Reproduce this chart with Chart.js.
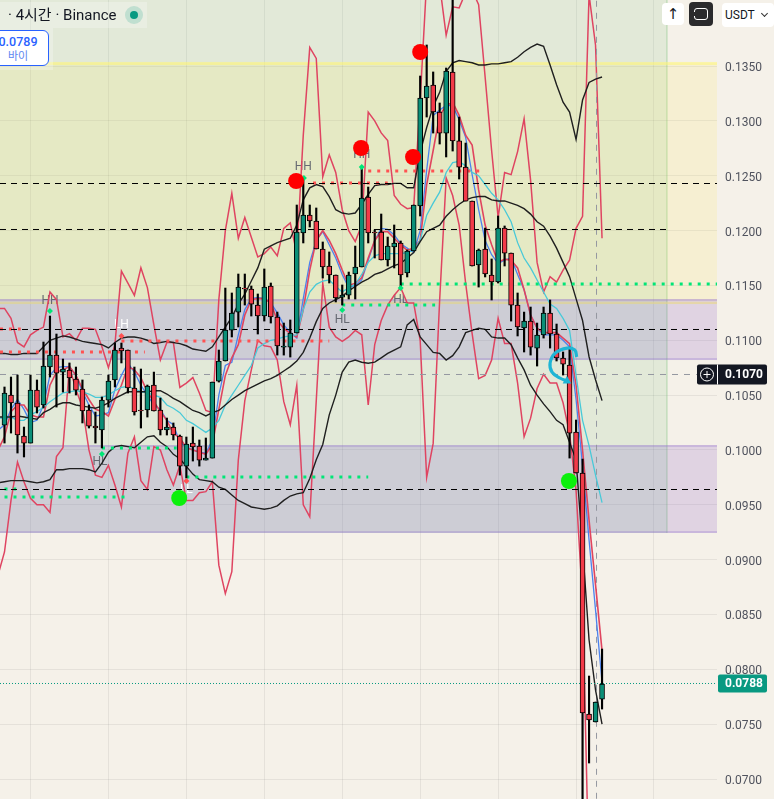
<!DOCTYPE html>
<html>
<head>
<meta charset="utf-8">
<script src="https://cdn.jsdelivr.net/npm/chart.js@4"></script>
<style>
  html,body{margin:0;padding:0;background:#f5f1e9;overflow:hidden;}
  #wrap{position:relative;width:774px;height:799px;font-family:Roboto,"Noto Sans CJK KR",sans-serif;overflow:hidden;}
  canvas{position:absolute;left:0;top:0;}
  .box{position:absolute;box-sizing:border-box;}
  #title{left:0;top:2px;width:147px;height:26px;background:rgba(255,255,255,.25);font-size:15px;line-height:26px;color:#131722;padding-left:8px;white-space:nowrap;}
  #dotHalo{left:125px;top:6px;width:18px;height:18px;border-radius:50%;background:rgba(8,153,129,.18);}
  #dot{left:130px;top:11px;width:8px;height:8px;border-radius:50%;background:#089981;}
  #buyBack{left:0;top:28px;width:53px;height:42px;background:rgba(255,255,255,.25);}
  #buy{left:-13px;top:30px;width:62px;height:36px;background:#fff;border:1px solid #2962ff;border-radius:6px;color:#2962ff;text-align:center;font-size:12px;line-height:15px;padding-top:3px;}
  #buy b{display:block;font-weight:500;font-size:12.5px;}
  #buy span{color:#5d85f0;font-size:11px;}
  #up{left:662px;top:3px;width:22px;height:22px;background:#fff;border-radius:4px;text-align:center;font:15px/22px "DejaVu Sans";color:#131722;}
  #full{left:689px;top:2px;width:24px;height:24px;background:#2a2a2c;border-radius:4px;}
  #full i{position:absolute;left:5px;top:6px;width:14px;height:12px;box-sizing:border-box;border:1.5px solid #fff;border-radius:3px;}
  #full i::before{content:"";position:absolute;left:-2px;top:2.5px;width:14px;height:4px;background:#2a2a2c;}
  #usdt{left:722px;top:3px;width:52px;height:24px;background:#fff;border-radius:4px;font-size:12px;line-height:24px;padding-left:3px;color:#131722;}
  #usdt i{position:absolute;left:40px;top:8px;width:4px;height:4px;border-right:1.3px solid #333;border-bottom:1.3px solid #333;transform:rotate(45deg);}
</style>
</head>
<body>
<div id="wrap">
  <canvas id="chart" width="774" height="799"></canvas>
  <div class="box" id="title">· 4시간 · Binance</div>
  <div class="box" id="dotHalo"></div>
  <div class="box" id="dot"></div>
  <div class="box" id="buyBack"></div>
  <div class="box" id="buy"><b>0.0789</b><span>바이</span></div>
  <div class="box" id="up">↑</div>
  <div class="box" id="full"><i></i></div>
  <div class="box" id="usdt">USDT<i></i></div>
</div>
<script>
// candles
const opens = [
  0.10227,0.10501,0.10428,0.10127,0.10063,0.10546,0.10410,0.10756,0.10865,0.10710,
  0.10729,0.10647,0.10555,0.10364,0.10218,0.10182,0.10455,0.10638,0.10929,0.10911,
  0.10565,0.10364,0.10364,0.10592,0.10364,0.10182,0.10209,0.10127,0.09853,0.10063,
  0.10036,0.09908,0.09926,0.10628,0.10811,0.11093,0.11257,0.11476,0.11467,0.11321,
  0.11221,0.11495,0.11212,0.10938,0.10938,0.11066,0.11978,0.12142,0.12087,0.11832,
  0.11677,0.11595,0.11394,0.11412,0.11604,0.11668,0.12306,0.11987,0.11987,0.11732,
  0.11850,0.11887,0.11613,0.11814,0.12224,0.13209,0.13327,0.13081,0.12889,0.13446,
  0.12817,0.12579,0.12269,0.11686,0.11832,0.11595,0.11531,0.12023,0.11795,0.11321,
  0.11112,0.11175,0.10929,0.11048,0.11248,0.11057,0.10838,0.10774,0.10163,0.09790,
  0.07592,0.07520,0.07729];
const closes = [
  0.10519,0.10428,0.10136,0.10063,0.10546,0.10391,0.10765,0.10865,0.10701,0.10738,
  0.10656,0.10546,0.10355,0.10218,0.10200,0.10455,0.10628,0.10911,0.10902,0.10565,
  0.10346,0.10355,0.10583,0.10355,0.10182,0.10209,0.10136,0.09853,0.10054,0.10027,
  0.09908,0.09926,0.10619,0.10811,0.11093,0.11248,0.11485,0.11467,0.11330,0.11221,
  0.11485,0.11212,0.10948,0.10948,0.11066,0.11987,0.12142,0.12087,0.11832,0.11668,
  0.11595,0.11385,0.11412,0.11595,0.11668,0.12297,0.11978,0.11978,0.11732,0.11859,
  0.11887,0.11595,0.11814,0.12233,0.13209,0.13318,0.13081,0.12889,0.13455,0.12817,
  0.12579,0.12269,0.11677,0.11823,0.11604,0.11531,0.12023,0.11795,0.11321,0.11121,
  0.11175,0.10938,0.11048,0.11248,0.11057,0.10838,0.10783,0.10154,0.09790,0.07602,
  0.07538,0.07702,0.07866];
const highs = [
  0.10574,0.10665,0.10683,0.10209,0.10683,0.10638,0.10984,0.11221,0.11057,0.10829,
  0.10793,0.10756,0.10638,0.10410,0.10346,0.10483,0.10683,0.10975,0.10975,0.10911,
  0.10756,0.10738,0.10592,0.10710,0.10473,0.10291,0.10246,0.10136,0.10118,0.10209,
  0.10091,0.10109,0.10619,0.10911,0.11476,0.11431,0.11604,0.11604,0.11495,0.11422,
  0.11650,0.11522,0.11257,0.11157,0.11185,0.12233,0.12479,0.12233,0.12206,0.11896,
  0.11805,0.11595,0.11504,0.11622,0.11859,0.12579,0.12397,0.12005,0.12151,0.11941,
  0.12051,0.11905,0.11823,0.12233,0.13409,0.13692,0.13446,0.13163,0.13482,0.14148,
  0.13035,0.12798,0.12269,0.11832,0.12023,0.11741,0.12133,0.12042,0.11795,0.11431,
  0.11257,0.11303,0.11157,0.11303,0.11367,0.11148,0.10893,0.10938,0.10273,0.09917,
  0.07939,0.07702,0.08185];
const lows = [
  0.10063,0.10154,0.09972,0.09936,0.10063,0.10337,0.10382,0.10665,0.10391,0.10528,
  0.10519,0.10501,0.10246,0.10200,0.10063,0.10018,0.10391,0.10574,0.10793,0.10519,
  0.10318,0.10200,0.10300,0.10355,0.10136,0.10136,0.10091,0.09771,0.09744,0.09899,
  0.09853,0.09908,0.09926,0.10619,0.10811,0.11030,0.11121,0.11321,0.11221,0.11057,
  0.11175,0.11157,0.10865,0.10865,0.10847,0.11066,0.11887,0.12032,0.11832,0.11567,
  0.11522,0.11349,0.11321,0.11376,0.11376,0.11668,0.11887,0.11750,0.11732,0.11677,
  0.11659,0.11467,0.11577,0.11814,0.12133,0.13035,0.12889,0.12789,0.12671,0.12725,
  0.12470,0.12269,0.11677,0.11485,0.11577,0.11367,0.11522,0.11677,0.11175,0.11039,
  0.10893,0.10865,0.10765,0.11020,0.10929,0.10811,0.10683,0.09926,0.09790,0.06717,
  0.07146,0.07520,0.07638];

// indicator lines, first value is the bar just left of the window
const redUpper = [0.1129,
  0.1129,0.1120,0.1098,0.1094,0.1105,0.1109,0.1112,0.1144,0.1137,0.1103,
  0.1106,0.1100,0.1111,0.1111,0.1110,0.1094,0.1075,0.1096,0.1163,0.1152,
  0.1141,0.1166,0.1148,0.1114,0.1082,0.1098,0.1098,0.1057,0.1061,0.1066,
  0.1052,0.1036,0.1034,0.1137,0.1200,0.1234,0.1193,0.1212,0.1194,0.1176,
  0.1179,0.1185,0.1177,0.1202,0.1207,0.1179,0.1287,0.1367,0.1357,0.1249,
  0.1269,0.1253,0.1219,0.1200,0.1190,0.1205,0.1308,0.1300,0.1289,0.1282,
  0.1232,0.1224,0.1220,0.1221,0.1319,0.1428,0.1433,0.1424,0.1378,0.1404,
  0.1403,0.1417,0.1419,0.1406,0.1340,0.1273,0.1212,0.1253,0.1251,0.1272,
  0.1302,0.1246,0.1171,0.1144,0.1158,0.1153,0.1164,0.1173,0.1202,0.1213,0.1415,0.1369,0.1193];
const redLower = [0.0886,
  0.0907,0.0954,0.0989,0.0971,0.0956,0.0950,0.0950,0.0943,0.0994,0.1002,
  0.1076,0.1055,0.1039,0.1000,0.0977,0.0975,0.0986,0.0968,0.0948,0.0997,
  0.1012,0.0972,0.0964,0.1003,0.1000,0.0982,0.0968,0.0986,0.0954,0.0954,
  0.0961,0.0962,0.0971,0.0895,0.0869,0.0889,0.0991,0.1045,0.1073,0.1100,
  0.1095,0.1094,0.1082,0.1044,0.1023,0.1059,0.0950,0.0939,0.1045,0.1152,
  0.1112,0.1103,0.1099,0.1103,0.1109,0.1105,0.1041,0.1096,0.1118,0.1132,
  0.1141,0.1148,0.1134,0.1134,0.1100,0.0975,0.1006,0.1137,0.1248,0.1232,
  0.1205,0.1152,0.1106,0.1065,0.1068,0.1082,0.1120,0.1097,0.1097,0.1061,
  0.1012,0.1029,0.1056,0.1069,0.1061,0.1061,0.1043,0.1015,0.0963,0.0863,0.0608,0.0590,0.0590];
const bandUpper = [0.1088,
  0.1088,0.1087,0.1087,0.1088,0.1088,0.1088,0.1094,0.1100,0.1102,0.1104,
  0.1103,0.1101,0.1099,0.1098,0.1097,0.1096,0.1093,0.1098,0.1102,0.1103,
  0.1103,0.1102,0.1100,0.1097,0.1098,0.1099,0.1098,0.1097,0.1095,0.1092,
  0.1091,0.1090,0.1094,0.1103,0.1112,0.1121,0.1133,0.1142,0.1154,0.1166,
  0.1183,0.1186,0.1189,0.1191,0.1193,0.1205,0.1228,0.1239,0.1242,0.1240,
  0.1231,0.1219,0.1216,0.1215,0.1216,0.1224,0.1233,0.1241,0.1242,0.1242,
  0.1243,0.1243,0.1239,0.1239,0.1271,0.1294,0.1313,0.1326,0.1345,0.1353,
  0.1355,0.1354,0.1353,0.1351,0.1351,0.1352,0.1352,0.1353,0.1354,0.1358,
  0.1363,0.1367,0.1370,0.1368,0.1351,0.1333,0.1317,0.1308,0.1283,0.1319,0.1335,0.1338,0.1340];
const bandMiddle = [0.1030,
  0.1030,0.1030,0.1031,0.1030,0.1029,0.1028,0.1034,0.1037,0.1041,0.1043,
  0.1043,0.1041,0.1040,0.1039,0.1038,0.1040,0.1043,0.1047,0.1050,0.1053,
  0.1053,0.1053,0.1053,0.1054,0.1054,0.1051,0.1047,0.1044,0.1040,0.1036,
  0.1034,0.1031,0.1034,0.1036,0.1041,0.1046,0.1050,0.1054,0.1057,0.1060,
  0.1063,0.1065,0.1068,0.1072,0.1076,0.1081,0.1089,0.1102,0.1117,0.1129,
  0.1134,0.1137,0.1140,0.1145,0.1149,0.1153,0.1156,0.1160,0.1162,0.1165,
  0.1168,0.1170,0.1175,0.1180,0.1190,0.1199,0.1202,0.1205,0.1213,0.1219,
  0.1224,0.1228,0.1230,0.1231,0.1231,0.1228,0.1227,0.1227,0.1225,0.1223,
  0.1220,0.1215,0.1208,0.1204,0.1195,0.1184,0.1171,0.1158,0.1138,0.1118,0.1085,0.1064,0.1045];
const bandLower = [0.0970,
  0.0971,0.0972,0.0972,0.0972,0.0971,0.0970,0.0971,0.0973,0.0982,0.0982,
  0.0983,0.0983,0.0983,0.0982,0.0980,0.0988,0.0998,0.1003,0.1004,0.1003,
  0.1002,0.1007,0.1012,0.1013,0.1007,0.1003,0.0996,0.0992,0.0985,0.0978,
  0.0973,0.0972,0.0971,0.0966,0.0964,0.0959,0.0954,0.0951,0.0948,0.0947,
  0.0946,0.0947,0.0949,0.0954,0.0958,0.0960,0.0961,0.0974,0.0991,0.1005,
  0.1032,0.1050,0.1071,0.1080,0.1082,0.1080,0.1079,0.1080,0.1084,0.1088,
  0.1091,0.1094,0.1114,0.1119,0.1103,0.1096,0.1089,0.1088,0.1082,0.1086,
  0.1094,0.1107,0.1109,0.1111,0.1110,0.1103,0.1102,0.1102,0.1096,0.1084,
  0.1073,0.1059,0.1050,0.1042,0.1035,0.1027,0.1023,0.1007,0.0991,0.0912,0.0827,0.0781,0.0750];
const emaBlue = [0.1018,
  0.1023,0.1037,0.1046,0.1037,0.1025,0.1027,0.1041,0.1068,0.1075,0.1076,
  0.1076,0.1068,0.1053,0.1041,0.1031,0.1032,0.1034,0.1055,0.1068,0.1079,
  0.1071,0.1059,0.1050,0.1041,0.1037,0.1027,0.1023,0.1007,0.1003,0.1000,
  0.0998,0.0997,0.1009,0.1050,0.1077,0.1080,0.1105,0.1128,0.1138,0.1139,
  0.1138,0.1134,0.1125,0.1114,0.1107,0.1102,0.1138,0.1171,0.1191,0.1199,
  0.1187,0.1175,0.1160,0.1148,0.1150,0.1155,0.1173,0.1191,0.1202,0.1201,
  0.1196,0.1188,0.1184,0.1180,0.1200,0.1255,0.1305,0.1310,0.1314,0.1314,
  0.1301,0.1285,0.1251,0.1219,0.1191,0.1178,0.1170,0.1173,0.1175,0.1160,
  0.1146,0.1123,0.1111,0.1105,0.1105,0.1105,0.1100,0.1094,0.1046,0.0986,0.0918,0.0854,0.0788];
const emaRed = [0.1000,
  0.1012,0.1035,0.1041,0.1041,0.1032,0.1030,0.1030,0.1059,0.1071,0.1073,
  0.1076,0.1068,0.1056,0.1046,0.1037,0.1035,0.1031,0.1046,0.1059,0.1076,
  0.1073,0.1066,0.1053,0.1044,0.1035,0.1027,0.1015,0.1011,0.1002,0.1000,
  0.0998,0.0996,0.1005,0.1037,0.1068,0.1084,0.1096,0.1123,0.1137,0.1138,
  0.1138,0.1134,0.1118,0.1111,0.1106,0.1103,0.1128,0.1164,0.1191,0.1200,
  0.1191,0.1179,0.1164,0.1150,0.1152,0.1157,0.1175,0.1191,0.1199,0.1199,
  0.1193,0.1187,0.1182,0.1184,0.1191,0.1242,0.1273,0.1305,0.1314,0.1317,
  0.1305,0.1287,0.1278,0.1237,0.1205,0.1187,0.1171,0.1174,0.1173,0.1166,
  0.1146,0.1123,0.1111,0.1107,0.1107,0.1107,0.1102,0.1097,0.1059,0.1000,0.0936,0.0877,0.0817];
const emaCyan = [0.1029,
  0.1029,0.1030,0.1027,0.1027,0.1032,0.1035,0.1039,0.1044,0.1048,0.1052,
  0.1053,0.1054,0.1053,0.1051,0.1048,0.1048,0.1050,0.1054,0.1057,0.1058,
  0.1056,0.1053,0.1052,0.1050,0.1048,0.1041,0.1038,0.1034,0.1027,0.1024,
  0.1020,0.1016,0.1020,0.1027,0.1041,0.1050,0.1059,0.1068,0.1077,0.1093,
  0.1097,0.1100,0.1101,0.1103,0.1104,0.1105,0.1128,0.1144,0.1151,0.1154,
  0.1155,0.1149,0.1144,0.1148,0.1151,0.1160,0.1171,0.1177,0.1179,0.1179,
  0.1179,0.1179,0.1180,0.1182,0.1191,0.1214,0.1225,0.1235,0.1253,0.1262,
  0.1263,0.1259,0.1253,0.1250,0.1242,0.1234,0.1228,0.1219,0.1208,0.1189,
  0.1175,0.1166,0.1155,0.1144,0.1133,0.1129,0.1120,0.1109,0.1068,0.1027,0.1004,0.0977,0.0952];

// axis
const yTicks = [0.07,0.075,0.08,0.085,0.09,0.095,0.10,0.105,0.11,0.115,0.12,0.125,0.13,0.135];
const xGrid = [4,16,28,40,52,64,76,88,100];
const lastLabel = "0.0788", crossLabel = "0.1070";
const lastLine = 0.07871;
const crossLine = 0.10688;
const crossBar = 91.15;

// levels: price, from bar, to bar
const blackLevels = [0.124291,0.120098,0.110982,0.096395];
const blackLevelEnd = [109.7,102,109.7,109.7];
const greenLevels = [0.11513,0.09571,0.09644,0.10018,0.09753,0.11321];
const greenFrom = [61,0,0,15,28,52];
const greenTo = [109.7,19.3,1.8,26.5,56,66.3];
const redLevels = [0.11102,0.10893,0.10993,0.12434,0.12543];
const redFrom = [-0.7,-0.7,18,47.5,56];
const redTo = [2.5,21.6,50,59,73.4];

// pivots
const pivotText = ["HH","HH","LH","HH","HL","HL","HL","LL"];
const pivotBar = [7,46,18,55,14.7,52,61,28];
const pivotPrice = [0.11358,0.12579,0.11139,0.12689,0.09890,0.11185,0.11367,0.09635];
const pivotColor = ["#666a72","#666a72","#ffffff","#666a72","#666a72","#666a72","#666a72","#ffffff"];
const hlBars = [7,15,46.1,55,52,61];
const hlPrices = [0.11267,0.09963,0.12479,0.12579,0.11276,0.11476];
const lhBars = [18,28];
const lhPrices = [0.11039,0.09717];
const sellBars = [44.9,54.9,62.9,64];
const sellPrices = [0.12452,0.12753,0.12671,0.13628];
const buyBars = [26.9,86.9];
const buyPrices = [0.09562,0.09717];

// arrow drawn by hand on the chart
const arrowBars = [88.1,87.8,86.6,84.8,84,84.3,85.5,86.6];
const arrowPrices = [0.10847,0.10911,0.10929,0.10884,0.10793,0.10710,0.10656,0.10628];

// zones: top price, bottom price, to bar
const zoneGreen = [0.1415,0.09243,102];
const zoneYellow = [0.13528,0.11330];
const zonePurple = [[0.11376,0.10820],[0.10045,0.09243]];

const UP = "#0b8f78", DOWN = "#f23a48";
const xMin = -0.693, xMax = 109.7;

function series(vals){ return vals.map((v,i)=>({x:i-1,y:v})); }
function pts(xs,ys){ return xs.map((x,i)=>({x:x,y:ys[i]})); }
function line(vals,color,w,order){
  return {type:"line",data:series(vals),borderColor:color,borderWidth:w,pointRadius:0,order:order,tension:0};
}
function level(p,a,b,color,w,dash,order){
  return {type:"line",data:[{x:a,y:p},{x:b,y:p}],borderColor:color,borderWidth:w,borderDash:dash,pointRadius:0,order:order};
}
function marks(xs,ys,color,style,r,order){
  return {type:"scatter",data:pts(xs,ys),backgroundColor:color,borderWidth:0,pointStyle:style,pointRadius:r,showLine:false,order:order};
}

const datasets = [
  line(redUpper,"#df4461",1.5,9),
  line(redLower,"#df4461",1.5,9),
  line(bandUpper,"#1f1f1f",1.4,6),
  line(bandMiddle,"#1f1f1f",1.4,6),
  line(bandLower,"#1f1f1f",1.4,6),
  line(emaCyan,"#48c9d8",1.3,7),
  line(emaRed,"#e0455f",1.6,7),
  line(emaBlue,"#4b82ee",1.3,7),
  {type:"bar",data:lows.map((l,i)=>({x:i,y:[l,highs[i]]})),backgroundColor:"#000",barThickness:1.5,order:4},
  {type:"bar",data:opens.map((o,i)=>({x:i,y:[o,closes[i]]})),
    backgroundColor:opens.map((o,i)=>closes[i]>=o?UP:DOWN),borderColor:"#000",borderWidth:1,borderSkipped:false,barThickness:5,order:3},
  {type:"line",data:pts(arrowBars,arrowPrices),borderColor:"#1fb5d5",borderWidth:3.2,tension:0.4,
    pointRadius:arrowBars.map((b,i)=>i==arrowBars.length-1?5:0),pointBackgroundColor:"#1fb5d5",pointBorderWidth:0,pointStyle:"triangle",pointRotation:120,order:2},
  marks(sellBars,sellPrices,"#ff0000","circle",8,1),
  marks(buyBars,buyPrices,"#0cf00c","circle",8,1),
  marks(hlBars,hlPrices,"#00e676","rectRot",3,1),
  marks(lhBars,lhPrices,"#ff5252","rectRot",3,1)
];
blackLevels.forEach((p,i)=>datasets.push(level(p,xMin,blackLevelEnd[i],"#000",1,[6,5],5)));
greenLevels.forEach((p,i)=>datasets.push(level(p,greenFrom[i],greenTo[i],"#00e676",3,[3,6],5)));
redLevels.forEach((p,i)=>datasets.push(level(p,redFrom[i],redTo[i],"#ff5252",3,[3,6],5)));
datasets.push(level(lastLine,xMin,xMax,"#089981",1,[1,2],5));
datasets.push(level(crossLine,xMin,106.6,"#9598a1",1,[6,6],8));
datasets.push({type:"line",data:[{x:crossBar,y:0.0682},{x:crossBar,y:0.141}],borderColor:"#9598a1",borderWidth:1,borderDash:[6,6],pointRadius:0,order:8});

const zonesPlugin = {
  id:"zones",
  beforeDatasetsDraw(c){
    const g=c.ctx, X=c.scales.x, Y=c.scales.y, a=c.chartArea;
    function rect(top,bot,x0,x1,col){
      const y0=Y.getPixelForValue(top), y1=Y.getPixelForValue(bot);
      g.fillStyle=col; g.fillRect(x0,y0,x1-x0,y1-y0);
    }
    const gx=X.getPixelForValue(zoneGreen[2]);
    rect(zoneGreen[0],zoneGreen[1],a.left,gx,"rgba(76,175,80,.11)");
    g.fillStyle="rgba(76,175,80,.18)"; g.fillRect(gx-1,0,2,Y.getPixelForValue(zoneGreen[1]));
    rect(zoneYellow[0],zoneYellow[1],a.left,a.right,"rgba(255,235,59,.13)");
    let ty=Y.getPixelForValue(zoneYellow[0]), by=Y.getPixelForValue(zoneYellow[1]);
    g.fillStyle="rgba(255,245,120,.55)"; g.fillRect(a.left,ty-1,a.right-a.left,3); g.fillRect(a.left,by-2,a.right-a.left,2);
    zonePurple.forEach(z=>{
      rect(z[0],z[1],a.left,gx,"rgba(120,92,200,.2)");
      rect(z[0],z[1],gx,a.right,"rgba(140,96,198,.2)");
      g.fillStyle="rgba(149,117,205,.3)";
      g.fillRect(a.left,Y.getPixelForValue(z[0]),a.right-a.left,2);
      g.fillRect(a.left,Y.getPixelForValue(z[1])-2,a.right-a.left,2);
    });
    g.font="12px Roboto"; g.textAlign="center"; g.textBaseline="middle";
    pivotText.forEach((t,i)=>{
      g.fillStyle=pivotColor[i];
      g.fillText(t,X.getPixelForValue(pivotBar[i]),Y.getPixelForValue(pivotPrice[i]));
    });
  },
  afterDraw(c){
    const g=c.ctx, Y=c.scales.y;
    g.textBaseline="middle"; g.textAlign="left"; g.font="bold 12px Roboto";
    let y=Y.getPixelForValue(lastLine);
    g.fillStyle="#089981"; g.beginPath(); g.roundRect(718,y-9,49,18,2); g.fill();
    g.fillStyle="#fff"; g.fillText(lastLabel,725,y+1);
    y=Y.getPixelForValue(crossLine);
    g.fillStyle="#131722"; g.beginPath(); g.roundRect(697,y-10,70,20,2); g.fill();
    g.fillStyle="#fff"; g.fillRect(717,y-10,1,20);
    g.fillText(crossLabel,725,y+1);
    g.strokeStyle="#fff"; g.lineWidth=1;
    g.beginPath(); g.arc(707,y,6.5,0,Math.PI*2); g.moveTo(703.5,y); g.lineTo(710.5,y); g.moveTo(707,y-3.5); g.lineTo(707,y+3.5); g.stroke();
  }
};

new Chart(document.getElementById("chart"),{
  type:"bar",
  data:{datasets:datasets},
  plugins:[zonesPlugin],
  options:{
    responsive:false,
    animation:false,
    events:[],
    layout:{padding:0,autoPadding:false},
    plugins:{legend:{display:false},tooltip:{enabled:false}},
    datasets:{bar:{grouped:false}},
    scales:{
      x:{
        type:"linear",min:xMin,max:xMax,offset:false,
        afterBuildTicks(s){ s.ticks=xGrid.map(v=>({value:v})); },
        ticks:{display:false},
        grid:{color:"rgba(120,120,120,.13)",drawTicks:false,offset:false},
        border:{display:false}
      },
      y:{
        position:"right",min:0.06818,max:0.14102,
        afterBuildTicks(s){ s.ticks=yTicks.map(v=>({value:v})); },
        afterFit(s){ s.width=57; s.paddingTop=0; s.paddingBottom=0; },
        ticks:{callback:v=>v.toFixed(4),color:"#50535e",font:{family:"Roboto",size:12},padding:8,labelOffset:2,autoSkip:false,maxRotation:0},
        grid:{color:"rgba(120,120,120,.13)",drawTicks:false},
        border:{display:false}
      }
    }
  }
});
</script>
</body>
</html>
